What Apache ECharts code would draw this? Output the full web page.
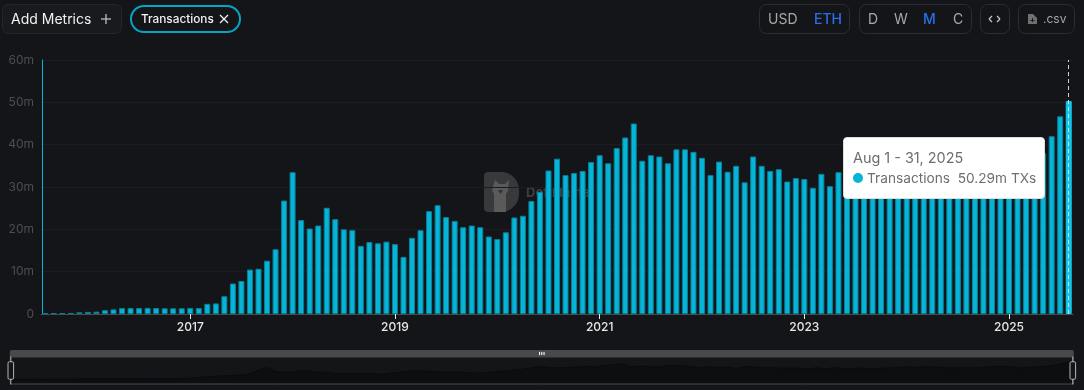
<!DOCTYPE html>
<html><head><meta charset="utf-8">
<style>html,body{margin:0;padding:0;background:#141518;overflow:hidden}#c{width:1084px;height:390px}</style>
<script src="https://cdn.jsdelivr.net/npm/echarts@6/dist/echarts.min.js"></script>
</head><body><div id="c"></div>
<script>
const startYear = 2015, startMonth = 7;
const transactions = [
0.15,0.2,0.2,0.25,0.4,0.5,0.55,0.9,1.1,1.4,1.4,1.4,1.45,1.4,1.35,1.35,1.35,
1.4,1.4,2.4,2.5,4.2,7.2,7.8,10.5,10.7,12.6,15.3,26.8,33.5,22.2,20.2,20.9,25.1,22.4,20.0,19.8,
16.1,17.0,16.7,17.1,16.5,13.5,18.0,19.8,24.3,25.7,22.9,22.0,20.5,20.9,20.5,18.3,17.7,19.3,22.8,23.2,26.7,28.9,33.9,36.7,
32.8,33.3,33.8,35.9,37.5,35.6,39.2,41.7,45.0,36.2,37.5,37.2,35.6,38.9,38.9,38.3,36.9,32.8,36.0,
33.6,35.0,31.1,37.2,35.0,33.8,34.2,31.3,32.1,31.9,29.8,33.1,30.2,33.5,
31.0,31.0,32.2,29.9,30.8,32.5,33.4,36.0,34.0,36.0,35.0,35.0,32.0,33.0,33.0,33.0,35.0,37.0,37.0,36.0,32.0,35.0,36.0,38.0,
42.0,46.7,50.29];
const categories = transactions.map((_, i) => {
  const m = startMonth + i;
  return (startYear + Math.floor(m / 12)) + '-' + String(m % 12 + 1).padStart(2, '0');
});
const yearLabels = ['2017','2019','2021','2023','2025'];
const yTicks = {min:0,max:60,interval:10};
const tooltipTitle = 'Aug 1 - 31, 2025';
const tooltipSeries = 'Transactions';
const tooltipValue = '50.29m TXs';
const FONT = 'Inter, "Liberation Sans", sans-serif';
const cyan = '#05b4d6';

function box(x,y,w,h,r,stroke,fill,lw){return {type:'rect',shape:{x,y,width:w,height:h,r},style:{fill:fill||'transparent',stroke:stroke||'transparent',lineWidth:lw||1},silent:true};}
function txt(x,y,t,size,color,weight){return {type:'text',x,y,style:{text:t,font:(weight||400)+' '+size+'px '+FONT,fill:color,textVerticalAlign:'middle'},silent:true};}
function line(x1,y1,x2,y2,c,w){return {type:'line',shape:{x1,y1,x2,y2},style:{stroke:c,lineWidth:w||1},silent:true};}
function poly(points,fill){return {type:'polygon',shape:{points},style:{fill},silent:true};}
const bd='#2b2d31';
const TY=19.5;
const header=[
 box(2.5,4.5,119,29,6,'#24262a','#191a1d'),
 txt(11,TY,'Add Metrics',14,'#f1f1f1'),
 line(101,19,111,19,'#bdbdbd',1.3),line(106,14,106,24,'#bdbdbd',1.3),
 box(131,6,109,26,13,'#05a5c4','transparent',2),
 txt(141,TY,'Transactions',11.8,'#f1f1f1',500),
 line(220,15,228,23,'#f1f1f1',1.2),line(228,15,220,23,'#f1f1f1',1.2),
 box(759.5,4.5,90,29,7,bd),
 txt(768,TY,'USD',14,'#a8a8a8'),
 txt(814,TY,'ETH',14,'#2a6fe8',500),
 box(859.5,4.5,112,29,7,bd),
 txt(868,TY,'D',14,'#a8a8a8'),txt(894,TY,'W',14,'#a8a8a8'),txt(923,TY,'M',14,'#2a6fe8',500),txt(953,TY,'C',14,'#a8a8a8'),
 box(980.5,4.5,29,29,7,bd),
 line(992,16,989,19,'#c4c4c4',1.2),line(989,19,992,22,'#c4c4c4',1.2),
 line(997,16,1000,19,'#c4c4c4',1.2),line(1000,19,997,22,'#c4c4c4',1.2),
 box(1018.5,4.5,56,29,7,bd),
 poly([[1028,14],[1033,14],[1037,18],[1037,24],[1028,24]],'#707070'),
 line(1032.5,18,1032.5,22,'#1a1b1e',1),line(1030.5,20.5,1034.5,20.5,'#1a1b1e',1),
 txt(1043,TY,'.csv',12,'#a8a8a8')
];
const watermark=[
 box(484,172,35,40,[4,18,18,4],null,'#38393b'),
 poly([[495,180],[499,184],[505,184],[509,180],[508,191],[506,194],[506,212],[494,212],[494,194],[492,190]],'#5a5a5b'),
 poly([[498,190],[503,190],[500.5,194]],'#333436'),
 txt(526,193,'DefiLlama',13,'#3e3f41',700)
];
const chart=echarts.init(document.getElementById('c'),null,{renderer:'canvas'});
chart.setOption({
 animation:false,
 backgroundColor:'#141518',
 textStyle:{fontFamily:FONT},
 grid:{left:41,right:11,top:60,bottom:76,containLabel:false},
 graphic:{elements:header.concat(watermark)},
 tooltip:{
  trigger:'axis',
  alwaysShowContent:true,
  transitionDuration:0,
  position:[843,137],
  backgroundColor:'#ffffff',
  borderColor:'#dddddd',
  borderWidth:1,
  padding:[9,10,10,9],
  extraCssText:'width:181px;height:41px;border-radius:4px;box-shadow:none;box-sizing:content-box;',
  textStyle:{color:'#666',fontSize:14,fontFamily:FONT},
  axisPointer:{type:'line',z:20,lineStyle:{color:'#dcdcdc',type:[4,3],width:1,opacity:.95}},
  formatter:()=>'<div style="line-height:21px;white-space:nowrap;color:#6e6e6e;font-size:14.4px">'+tooltipTitle+'</div>'+
   '<div style="line-height:21px;white-space:nowrap;color:#6e6e6e;font-size:13.7px"><span style="display:inline-block;width:10px;height:10px;border-radius:50%;background:'+cyan+';margin-right:4px"></span>'+tooltipSeries+'&nbsp;&nbsp;'+tooltipValue+'</div>'
 },
 xAxis:{
  type:'category',data:categories,boundaryGap:true,
  axisLine:{show:true,lineStyle:{color:'#4a4b4d',width:1}},
  axisTick:{show:true,alignWithLabel:true,length:5,lineStyle:{color:'#e8e8e8'},interval:(i,v)=>v.endsWith('-01')&&yearLabels.includes(v.slice(0,4))},
  axisLabel:{color:'#e6e6e6',fontSize:12,fontWeight:500,margin:7,
   interval:(i,v)=>v.endsWith('-01')&&yearLabels.includes(v.slice(0,4)),formatter:v=>v.slice(0,4)},
  splitLine:{show:false}
 },
 yAxis:{
  type:'value',min:yTicks.min,max:yTicks.max,interval:yTicks.interval,offset:-1,
  axisLine:{show:true,lineStyle:{color:cyan,width:1}},
  axisTick:{show:false},
  axisLabel:{color:'#4d4e50',fontSize:12,margin:8,formatter:v=>v===0?'0':v+'m'},
  splitLine:{lineStyle:{color:'#1c1d20',width:1}}
 },
 dataZoom:[{
  type:'slider',xAxisIndex:0,start:0,end:100,left:7,right:13,top:350,height:28,
  brushSelect:true,showDetail:false,
  backgroundColor:'transparent',borderColor:'#4a4a4c',borderRadius:0,fillerColor:'rgba(0,0,0,0)',
  handleStyle:{color:'#141518',borderColor:'#b5b5b5',borderWidth:1},
  moveHandleSize:7,
  moveHandleStyle:{color:'#49494b',opacity:1},
  dataBackground:{lineStyle:{color:'#0b0c0e',width:1,opacity:1},areaStyle:{color:'#0d0e10',opacity:1}},
  selectedDataBackground:{lineStyle:{color:'#0b0c0e',width:1,opacity:1},areaStyle:{color:'#0d0e10',opacity:1}},
  emphasis:{moveHandleStyle:{color:'#49494b'}}
 }],
 series:[{
  type:'bar',name:'Transactions',data:transactions,
  barWidth:6,
  itemStyle:{color:cyan,borderColor:'#0a7f97',borderWidth:1},
  emphasis:{itemStyle:{color:'#0fc7ea',borderColor:'#0fc7ea'}},
  large:false
 }]
});
chart.dispatchAction({type:'showTip',seriesIndex:0,dataIndex:transactions.length-1});
</script></body></html>
